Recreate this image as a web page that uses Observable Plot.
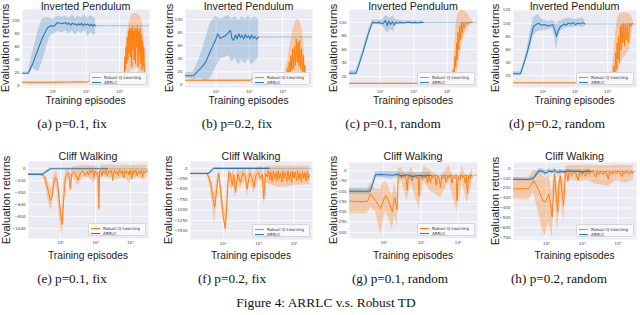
<!DOCTYPE html>
<html><head><meta charset="utf-8">
<script src="https://cdn.jsdelivr.net/npm/d3@7"></script>
<script src="https://cdn.jsdelivr.net/npm/@observablehq/plot@0.6"></script>
<style>
body{margin:0;background:#fff;}
#fig{position:relative;width:640px;height:315px;overflow:hidden;font-family:"Liberation Sans",Arial,sans-serif;color:#1a1a1a;}
.t{position:absolute;white-space:nowrap;line-height:1;}
.title{font-size:10.7px;transform:translate(-50%,-50%);}
.xl{font-size:10.2px;transform:translate(-50%,-50%);}
.yl{font-size:11px;transform:translate(-50%,-50%) rotate(-90deg);}
.cap{font-family:"Liberation Serif","Times New Roman",serif;font-size:13.2px;transform:translate(-50%,-50%);color:#111;}
.fcap{font-family:"Liberation Serif","Times New Roman",serif;font-size:13.4px;transform:translate(-50%,-50%);color:#111;}
.leg{position:absolute;background:rgba(250,250,252,0.9);border:0.5px solid #d4d4dc;border-radius:1.5px;font-family:"DejaVu Sans",sans-serif;font-size:4px;color:#333;padding:1.5px 2px;line-height:5px;box-sizing:border-box;}
.leg .sw{display:inline-block;width:9px;height:1px;vertical-align:middle;margin-right:3px;}
.panel{position:absolute;}
</style></head><body><div id="fig"></div>
<script>
// ---------- text ----------
const panelTitles = ["Inverted Pendulum", "Cliff Walking"];
const yLabel = "Evaluation returns";
const xLabel = "Training episodes";
const seriesNames = ["Robust Q-Learning", "ARRLC"];
const captions = ["(a) p=0.1, fix", "(b) p=0.2, fix", "(c) p=0.1, random", "(d) p=0.2, random",
                  "(e) p=0.1, fix", "(f) p=0.2, fix", "(g) p=0.1, random", "(h) p=0.2, random"];
const figCaption = "Figure 4: ARRLC v.s. Robust TD";
const xTicks = [100, 1000, 10000];
const xTickLabels = ["10\u00b2", "10\u00b3", "10\u2074"];

// ---------- y ticks ----------
const aYTicks = [0, 20, 40, 60, 80, 100];
const bYTicks = [0, 20, 40, 60, 80, 100];
const cYTicks = [20, 40, 60, 80, 100];
const dYTicks = [20, 40, 60, 80, 100, 120];
const eYTicks = [0, -200, -400, -600, -800, -1000];
const fYTicks = [0, -250, -500, -750, -1000, -1250, -1500];
const gYTicks = [0, -50, -100, -150, -200, -250, -300];
const hYTicks = [0, -100, -200, -300, -400, -500, -600, -700];

// ---------- (a) ----------
const aBlueX = [12,18,25,36,48,68,84,104,137,192,237,270,300,340,380,420,470,520,580,650,720,800,900,1000,1100,1250,1400,1550,1700,1900];
const aBlueY = [20,20,36,58,75,90,93,92,98,96,98,95,97,94,97,95,96,93,96,94,97,93,96,94,96,93,95,92,95,93];
const aBlueBX = [12,18,25,36,48,68,84,104,137,192,237,300,380,470,580,720,900,1100,1400,1700,1900];
const aBlueLo = [18,18,28,22,38,66,78,80,84,82,86,80,85,78,84,80,86,76,82,78,80];
const aBlueHi = [22,22,55,86,104,106,104,103,108,106,108,104,110,104,108,105,110,104,109,105,104];
const aOrX = [12,100,500,1100,1300,2000,4000,8000,12000,13500,14000,14500,15000,15700,16300,17000,17800,18600,19400,20300,21200,22200,23200,24300,25400,26500,27700,29000,30300,31700,33100,34600,36200,37800,39500,41300,43200,45100,47200,49300,51500,53800,56300,58800,60000];
const aOrY = [6,6,6.5,6.5,9,9,9.5,10,11,12,20,45,25,60,35,75,40,85,50,90,45,88,30,92,55,85,40,90,35,88,60,92,30,85,50,90,35,80,25,70,30,60,25,15,12];
const aOrBX = [12,1100,1300,12000,13500,15000,17000,20000,24000,28000,33000,38000,43000,48000,54000,60000];
const aOrLo = [5,5,8,9,10,12,15,20,25,25,30,25,20,15,10,8];
const aOrHi = [7,7,10,11,15,50,80,100,110,112,112,110,108,100,80,40];

// ---------- (b) ----------
const bBlueX = [12,21,34,48,68,96,111,136,192,237,272,300,337,380,430,480,540,600,680,760,850,950,1060,1180,1320,1480,1650,1900];
const bBlueY = [14,14,25,34,52,68,78,71,75,80,83,71,68,76,70,78,72,76,70,77,72,75,70,76,71,74,70,73];
const bBlueBX = [12,21,34,48,68,96,136,192,237,300,380,480,600,760,950,1180,1480,1900];
const bBlueLo = [10,8,10,5,10,25,40,42,45,35,40,30,38,32,40,30,36,40];
const bBlueHi = [18,20,45,70,95,105,100,104,106,100,104,98,104,100,106,100,104,100];
const bOrX = [12,100,500,1090,1200,3000,6000,10000,11000,12000,13000,14000,15000,16000,17000,18000,19200,20400,21700,23000,24500,26000,27600,29300,31000,33000,35000,37000,39500,42000,44500,47000,49000];
const bOrY = [7,7,7,7,9,9,9.5,10,12,18,10,25,14,35,18,45,22,55,25,60,30,70,35,65,30,68,25,55,20,45,15,30,10];
const bOrBX = [12,1090,1200,10000,11000,14000,17000,20000,24000,28000,33000,38000,43000,49000];
const bOrLo = [6,6,8,9,9,10,12,14,15,15,12,10,9,8];
const bOrHi = [8,8,10,11,14,35,60,80,95,100,98,90,70,30];

// ---------- (c) ----------
const cBlueX = [12,19,30,45,58,75,90,120,143,160,180,200,230,260,284,330,400,500,600,750,900,1100,1300,1600,1900];
const cBlueY = [25,25,55,85,100,99,100,98,103,95,102,97,101,96,100,99,100,99,100,100,99,100,99,100,100];
const cBlueBX = [12,19,30,45,58,90,120,143,170,200,240,284,330,500,900,1900];
const cBlueLo = [22,22,50,80,97,97,94,88,84,90,86,95,97,98,98,98];
const cBlueHi = [29,29,60,90,103,103,104,110,108,106,110,104,103,102,102,102];
const cOrX = [12,100,500,1290,1500,3000,6000,10000,14000,15000,16000,17000,18000,19000,20000,21000,22000,23500,25000,26500,28000,30000,32000,35000,38000,42000,46000,50000,56000];
const cOrY = [10,10,10,10,12,12,12.5,13,15,30,20,50,35,70,45,85,60,95,75,100,85,100,92,100,97,100,99,100,100];
const cOrBX = [12,1290,1500,14000,16000,18000,20000,23000,26000,30000,35000,42000,50000,56000];
const cOrLo = [9,9,11,12,15,20,30,45,60,75,85,92,97,98];
const cOrHi = [11,11,13,16,50,90,110,116,118,118,116,112,105,102];

// ---------- (d) ----------
const dBlueX = [12,20,30,40,50,60,72,90,110,140,170,200,230,260,290,345,400,450,520,600,705,850,1000,1200,1450,1700,2000];
const dBlueY = [23,23,50,75,95,98,100,97,98,96,97,98,90,80,88,95,97,99,97,100,99,101,98,100,99,101,99];
const dBlueBX = [12,20,30,40,50,60,72,90,140,200,230,260,290,345,450,600,850,1200,1700,2000];
const dBlueLo = [20,20,45,60,80,85,88,88,90,92,78,60,72,88,92,94,93,95,94,95];
const dBlueHi = [26,26,55,88,108,112,113,106,103,104,102,98,102,103,106,108,106,106,108,104];
const dOrX = [12,100,500,1150,1300,3000,7000,12000,15000,16000,17000,18000,19000,20000,21000,22000,23500,25000,26500,28000,30000,32000,34000,36000,39000,42000,45000,49000,53000,58000,63000];
const dOrY = [9,9,9,9,11,11,11.5,12,20,35,25,55,30,70,45,80,40,95,60,98,70,100,65,98,75,100,70,100,95,100,99];
const dOrBX = [12,1150,1300,12000,15000,18000,21000,25000,30000,36000,42000,50000,58000,63000];
const dOrLo = [8,8,10,11,14,18,25,35,45,50,55,60,85,95];
const dOrHi = [10,10,12,13,40,85,110,115,116,116,115,114,110,104];

// ---------- (e) ----------
const eBlueX = [12,30,51,100,300,1000,2200];
const eBlueY = [-100,-100,-5,-5,-5,-5,-5];
const eBlueLo = [-115,-115,-20,-15,-15,-15,-15];
const eBlueHi = [-85,-85,10,5,5,5,5];
const eOrX = [12,20,30,33,41,51,57,64,71,80,89,99,110,123,138,154,170,191,210,238,270,310,371,430,500,
  577,630,690,760,830,892,980,1070,1170,1244,1300,1390,1520,1660,1820,1990,2180,2380,2600,2850,
  3110,3400,3720,4070,4450,4870,5320,5820,6360,6960,7610,8320,9100,9950,10900,11900,13000,14200,15600,17000,
  18600,20400,22300,24400,26700,29200,30200];
const eOrY = [-100,-100,-110,-120,-300,-536,-480,-250,-150,-200,-450,-750,-937,-500,-150,-100,-70,-341,-80,-60,-90,-200,-70,-40,-120,
  -50,-110,-30,-80,-20,-150,-40,-100,-60,-670,-50,-30,-120,-40,-90,-20,-130,-40,-70,-25,
  -200,-30,-90,-40,-120,-20,-80,-35,-160,-30,-90,-40,-110,-25,-180,-30,-80,-20,-120,-40,
  -90,-30,-150,-40,-80,-30,-60];
const eOrBX = [12,30,33,41,51,57,64,71,80,99,110,123,138,170,191,210,238,310,430,660,892,1120,1244,1390,1600,2500,4160,6500,9500,11000,15600,22000,30200];
const eOrLo = [-110,-120,-140,-450,-700,-650,-350,-250,-400,-1000,-1120,-800,-300,-150,-450,-150,-150,-300,-150,-150,-250,-150,-750,-150,-150,-150,-180,-150,-250,-150,-150,-180,-150];
const eOrHi = [-90,-95,-100,-150,-350,-300,-100,-60,-50,-500,-700,-250,-50,20,-150,20,30,40,50,50,40,50,-150,50,50,60,50,55,40,50,50,55,50];

// ---------- (f) ----------
const fBlueX = [12,39,54,100,300,1000,2000];
const fBlueY = [-125,-120,0,0,0,0,0];
const fBlueLo = [-140,-135,-20,-15,-15,-15,-15];
const fBlueHi = [-110,-105,20,15,15,15,15];
const fOrX = [12,20,30,36,44,50,58,66,75,84,93,104,116,130,144,160,180,200,223,260,305,360,410,475,560,640,735,850,980,1130,1260,1400,1560,
  1750,1900,2050,2200,2400,2600,2800,3050,3290,3550,3850,4150,4500,4850,5250,5700,6200,6700,7250,7850,
  8500,9200,9950,10800,11700,12600,13700,14800,16000,17300,18700,20200,21900,23700,25600,27000];
const fOrY = [-125,-125,-125,-130,-350,-650,-933,-500,-110,-500,-900,-1250,-1438,-700,-110,-120,-412,-150,-580,-130,-340,-100,-150,-500,-120,-200,-450,-150,-100,-250,-140,-732,-120,
  -200,-60,-280,-90,-320,-70,-250,-100,-300,-60,-260,-110,-330,-70,-240,-90,-310,-60,-270,-100,
  -350,-70,-230,-90,-300,-60,-260,-120,-320,-80,-250,-100,-300,-70,-240,-150];
const fOrBX = [12,36,44,58,66,75,84,116,130,144,180,200,223,260,305,410,475,560,735,980,1260,1400,1560,2400,3290,6200,11700,20000,27000];
const fOrLo = [-140,-145,-500,-1340,-800,-200,-700,-1614,-1000,-250,-550,-300,-750,-300,-500,-300,-700,-300,-600,-300,-300,-900,-350,-400,-450,-450,-400,-400,-400];
const fOrHi = [-110,-115,-200,-600,-250,-50,-300,-1100,-400,0,-150,20,-300,30,-100,40,-200,40,-150,50,50,-300,50,50,60,50,55,50,50];

// ---------- (g) ----------
const gBlueX = [12,36,44,60,82,112,169,240,300,428,600,877,1200,1810];
const gBlueY = [-100,-100,-98,-20,-18,-20,-22,-18,-25,-20,-28,-22,-25,-22];
const gBlueLo = [-115,-115,-112,-35,-33,-38,-40,-30,-40,-35,-45,-35,-40,-35];
const gBlueHi = [-85,-85,-84,-5,-3,-2,-5,-5,-10,-5,-12,-8,-10,-8];
const gOrX = [12,20,30,36,44,52,60,70,82,95,112,135,169,195,230,
  245,265,290,315,340,370,400,428,455,490,530,570,620,670,720,780,840,877,920,1000,
  1080,1170,1270,1380,1500,1630,1810,1950,2150,2350,2550,2800,3050,3340,3650,4000,4350,4750,5200,5700,
  6200,6800,7400,8100,8800,9300,10000,11000,12000,13000,14200,15500,16500,17600,19000,20500,22000,24000];
const gOrY = [-148,-150,-150,-150,-112,-130,-145,-165,-185,-150,-121,-150,-200,-130,-190,
  -25,-20,-35,-22,-30,-18,-45,-96,-25,-35,-20,-50,-22,-30,-18,-40,-25,-121,-30,-20,
  -45,-25,-35,-18,-60,-25,-57,-22,-35,-20,-70,-25,-35,-80,-22,-40,-20,-55,-25,-35,
  -20,-60,-25,-40,-20,-145,-25,-45,-20,-35,-25,-60,-20,-110,-25,-40,-20,-30];
const gOrBX = [12,36,44,60,82,95,112,135,169,195,230,245,300,428,540,877,1200,1810,3340,5700,9300,13000,17600,24000];
const gOrLo = [-210,-210,-180,-200,-310,-250,-200,-230,-290,-220,-270,-60,-50,-150,-60,-180,-55,-100,-130,-55,-200,-60,-160,-60];
const gOrHi = [-90,-95,-60,-90,-90,-60,-50,-80,-120,-60,-110,10,15,-40,20,-60,20,0,-30,25,-80,20,-50,15];

// ---------- (h) ----------
const hBlueX = [12,32,44,61,80,94,117,145,168,207,245,304,400,550,780,1050,1450,1700];
const hBlueY = [-110,-112,-100,-25,-30,-50,-25,-35,-20,-40,-30,-35,-25,-30,-28,-35,-25,-30];
const hBlueLo = [-125,-127,-120,-50,-60,-80,-50,-60,-45,-65,-50,-55,-45,-50,-45,-55,-45,-50];
const hBlueHi = [-95,-97,-80,0,0,-20,0,-10,5,-15,-10,-15,-5,-10,-10,-15,-5,-10];
const hOrX = [12,20,32,44,61,80,94,117,145,168,185,207,225,245,275,304,
  340,370,400,435,468,510,550,600,650,710,780,840,890,970,1050,1150,1250,1350,1450,1570,
  1700,1850,2000,2200,2400,2600,2800,3030,3260,3550,3900,4250,4600,5000,5400,5900,6400,6900,7500,8200,
  9000,9900,11000,12000,13000,14000,15000,16200,17500,19200,21000,22500,24000,25500,27000];
const hOrY = [-207,-205,-205,-122,-220,-330,-340,-257,-494,-55,-250,-443,-150,-75,-250,-375,
  -30,-50,-130,-35,-40,-70,-60,-30,-35,-90,-120,-40,-45,-70,-30,-60,-80,-30,-40,-65,
  -50,-25,-25,-70,-90,-35,-40,-60,-30,-50,-60,-30,-35,-75,-110,-35,-40,-60,-30,-45,
  -50,-25,-35,-65,-80,-30,-40,-55,-30,-45,-60,-30,-35,-55,-40];
const hOrBX = [12,32,44,61,80,94,117,145,168,207,245,304,340,468,890,1450,2400,5400,9000,15000,27000];
const hOrLo = [-310,-320,-250,-450,-650,-680,-550,-697,-250,-650,-250,-550,-120,-120,-130,-120,-160,-180,-120,-150,-120];
const hOrHi = [-90,-100,-20,-30,-80,-100,-60,-250,20,-200,20,-150,20,30,30,35,30,25,35,30,30];

// ---------- layout ----------
const BLUE = "#2a7ab8", ORANGE = "#ff7f0e";
const topXDom = [12, 80000], botXDom = [12, 33000];
const panels = [
  {L:22, R:149, T:9, B:87, xd:topXDom, yd:[-2,118], yt:aYTicks, blue:[aBlueX,aBlueY,aBlueBX,aBlueLo,aBlueHi], or:[aOrX,aOrY,aOrBX,aOrLo,aOrHi], row:0, ylx:5, capX:72},
  {L:185, R:312, T:9, B:87, xd:topXDom, yd:[-4,115], yt:bYTicks, blue:[bBlueX,bBlueY,bBlueBX,bBlueLo,bBlueHi], or:[bOrX,bOrY,bOrBX,bOrLo,bOrHi], row:0, ylx:169, capX:237},
  {L:349, R:477, T:9, B:87, xd:topXDom, yd:[4,119], yt:cYTicks, blue:[cBlueX,cBlueY,cBlueBX,cBlueLo,cBlueHi], or:[cOrX,cOrY,cOrBX,cOrLo,cOrHi], row:0, ylx:333, capX:393},
  {L:513, R:636, T:9, B:87, xd:topXDom, yd:[2,121], yt:dYTicks, blue:[dBlueX,dBlueY,dBlueBX,dBlueLo,dBlueHi], or:[dOrX,dOrY,dOrBX,dOrLo,dOrHi], row:0, ylx:495, capX:557},
  {L:28, R:148, T:161, B:238, xd:botXDom, yd:[-1170,115], yt:eYTicks, blue:[eBlueX,eBlueY,eBlueX,eBlueLo,eBlueHi], or:[eOrX,eOrY,eOrBX,eOrLo,eOrHi], row:1, ylx:6, capX:72},
  {L:190, R:312, T:161, B:239, xd:botXDom, yd:[-1710,165], yt:fYTicks, blue:[fBlueX,fBlueY,fBlueX,fBlueLo,fBlueHi], or:[fOrX,fOrY,fOrBX,fOrLo,fOrHi], row:1, ylx:168, capX:232},
  {L:349, R:477, T:162, B:238, xd:botXDom, yd:[-330,40], yt:gYTicks, blue:[gBlueX,gBlueY,gBlueX,gBlueLo,gBlueHi], or:[gOrX,gOrY,gOrBX,gOrLo,gOrHi], row:1, ylx:333, capX:400},
  {L:513, R:636, T:162, B:239, xd:botXDom, yd:[-720,60], yt:hYTicks, blue:[hBlueX,hBlueY,hBlueX,hBlueLo,hBlueHi], or:[hOrX,hOrY,hOrBX,hOrLo,hOrHi], row:1, ylx:495, capX:559}
];
const rowGeom = [{titleY:5.6, xlY:101, capY:124}, {titleY:156, xlY:256, capY:279}];

const fig = document.getElementById("fig");
function addText(cls, txt, x, y) {
  const d = document.createElement("div");
  d.className = "t " + cls; d.textContent = txt;
  d.style.left = x + "px"; d.style.top = y + "px";
  fig.appendChild(d); return d;
}
const pts = (xs, ys) => xs.map((x, i) => ({x, y: ys[i]}));
const band = (xs, lo, hi) => xs.map((x, i) => ({x, lo: lo[i], hi: hi[i]}));
const fmtY = d => d < 0 ? "\u2212" + Math.abs(d) : String(d);
const fmtX = d => xTickLabels[xTicks.indexOf(d)];

panels.forEach((p, i) => {
  const ml = 16, mr = 1, mt = 1, mb = 8;
  const blueLine = pts(p.blue[0], p.blue[1]);
  const orLine = pts(p.or[0], p.or[1]);
  const last = blueLine[blueLine.length - 1];
  const tail = [{x: last.x, y: last.y}, {x: p.xd[1], y: last.y}];
  const svg = Plot.plot({
    width: (p.R - p.L) + ml + mr, height: (p.B - p.T) + mt + mb,
    marginLeft: ml, marginRight: mr, marginTop: mt, marginBottom: mb,
    x: {type: "log", domain: p.xd},
    y: {domain: p.yd},
    style: {fontSize: "4px", fontFamily: "DejaVu Sans", color: "#444", background: "transparent", overflow: "visible"},
    marks: [
      Plot.frame({fill: "#EAEAF2", stroke: "none"}),
      Plot.gridX(xTicks, {stroke: "white", strokeOpacity: 1, strokeWidth: 0.8}),
      Plot.gridY(p.yt, {stroke: "white", strokeOpacity: 1, strokeWidth: 0.8}),
      Plot.axisX(xTicks, {tickSize: 0, tickPadding: 2.5, tickFormat: fmtX, label: null, fontSize: 4}),
      Plot.axisY(p.yt, {tickSize: 0, tickPadding: 3, tickFormat: fmtY, label: null, fontSize: 4}),
      Plot.areaY(band(p.or[2], p.or[3], p.or[4]), {x: "x", y1: "lo", y2: "hi", fill: ORANGE, fillOpacity: 0.3, clip: true}),
      Plot.areaY(band(p.blue[2], p.blue[3], p.blue[4]), {x: "x", y1: "lo", y2: "hi", fill: BLUE, fillOpacity: 0.25, clip: true}),
      Plot.line(orLine, {x: "x", y: "y", stroke: ORANGE, strokeWidth: 1, clip: true}),
      Plot.line(blueLine, {x: "x", y: "y", stroke: BLUE, strokeWidth: 1.1, clip: true}),
      Plot.line(tail, {x: "x", y: "y", stroke: BLUE, strokeOpacity: 0.55, strokeWidth: 0.8, strokeDasharray: "1.2,1.2", clip: true})
    ]
  });
  const wrap = document.createElement("div");
  wrap.className = "panel";
  wrap.style.left = (p.L - ml) + "px"; wrap.style.top = (p.T - mt) + "px";
  wrap.appendChild(svg);
  fig.appendChild(wrap);

  const g = rowGeom[p.row];
  addText("title", panelTitles[p.row], (p.L + p.R) / 2, g.titleY);
  addText("yl", yLabel, p.ylx, (p.T + p.B) / 2);
  addText("xl", xLabel, (p.L + p.R) / 2, g.xlY);
  addText("cap", captions[i], p.capX, g.capY);

  const leg = document.createElement("div");
  leg.className = "leg";
  const lw = 58, lh = 13;
  leg.style.left = (p.R - 2 - lw) + "px"; leg.style.top = (p.B - 2 - lh) + "px";
  leg.style.width = lw + "px"; leg.style.height = lh + "px";
  [[ORANGE, seriesNames[0]], [BLUE, seriesNames[1]]].forEach(([c, n]) => {
    const r = document.createElement("div");
    const sw = document.createElement("span"); sw.className = "sw"; sw.style.background = c;
    r.appendChild(sw); r.appendChild(document.createTextNode(n));
    leg.appendChild(r);
  });
  fig.appendChild(leg);
});
addText("fcap", figCaption, 326, 303);
</script></body></html>
